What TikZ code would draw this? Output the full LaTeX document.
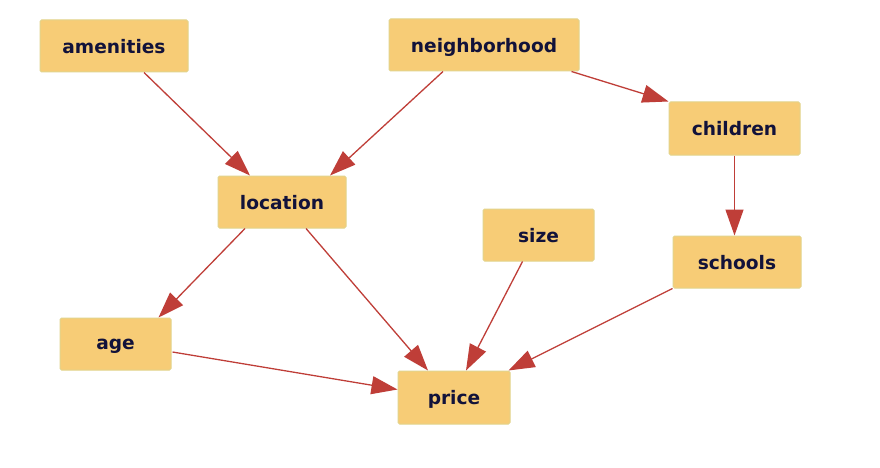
\documentclass[tikz,border=0pt]{standalone}
\usepackage{fontspec}
\setmainfont{DejaVu Sans}
\usetikzlibrary{arrows.meta}
\definecolor{boxfill}{HTML}{F7CC76}
\definecolor{boxline}{HTML}{E2D48C}
\definecolor{edgecol}{HTML}{BF3E38}
\definecolor{txtcol}{HTML}{12123A}
\tikzset{
  var/.style={draw=boxline, fill=boxfill, line width=1pt, rounded corners=1.5pt,
    inner sep=0pt, text=txtcol, font=\fontsize{18.6}{21}\selectfont\bfseries,
    text depth=0pt},
  edge/.style={draw=edgecol, line width=1.3pt,
    -{Triangle[length=26pt, width=18pt, color=edgecol]}}
}
\begin{document}
\begin{tikzpicture}[x=1pt, y=-1pt]
\useasboundingbox (0,0) rectangle (880,468);
\fill[white] (0,0) rectangle (880,468);
\node[var, minimum width=148pt, minimum height=52pt] (amen) at (114,46) {amenities};
\node[var, minimum width=190pt, minimum height=52pt] (neigh) at (484,45) {neighborhood};
\node[var, minimum width=131pt, minimum height=53pt] (child) at (734.5,128.5) {children};
\node[var, minimum width=128pt, minimum height=52pt] (loc) at (282,202) {location};
\node[var, minimum width=111pt, minimum height=52pt] (size) at (538.5,235) {size};
\node[var, minimum width=128pt, minimum height=52pt] (school) at (737,262) {schools};
\node[var, minimum width=111pt, minimum height=52pt] (age) at (115.5,344) {age};
\node[var, minimum width=112pt, minimum height=53pt] (price) at (454,397.5) {price};

\draw[edge] ([xshift=30pt]amen.south) -- ([xshift=-32pt]loc.north);
\draw[edge] ([xshift=-41pt]neigh.south) -- ([xshift=48pt]loc.north);
\draw[edge] ([xshift=-8pt]neigh.south east) -- (child.north west);
\draw[edge] (child.south) -- (child.south |- school.north);
\draw[edge] ([xshift=-37pt]loc.south) -- ([xshift=43pt]age.north);
\draw[edge] ([xshift=24pt]loc.south) -- ([xshift=-26pt]price.north);
\draw[edge] ([xshift=-16pt]size.south) -- ([xshift=12pt]price.north);
\draw[edge] (school.south west) -- ([xshift=-2pt]price.north east);
\draw[edge] ([xshift=1pt,yshift=-8pt]age.east) -- ([yshift=8pt]price.west);
\end{tikzpicture}
\end{document}
